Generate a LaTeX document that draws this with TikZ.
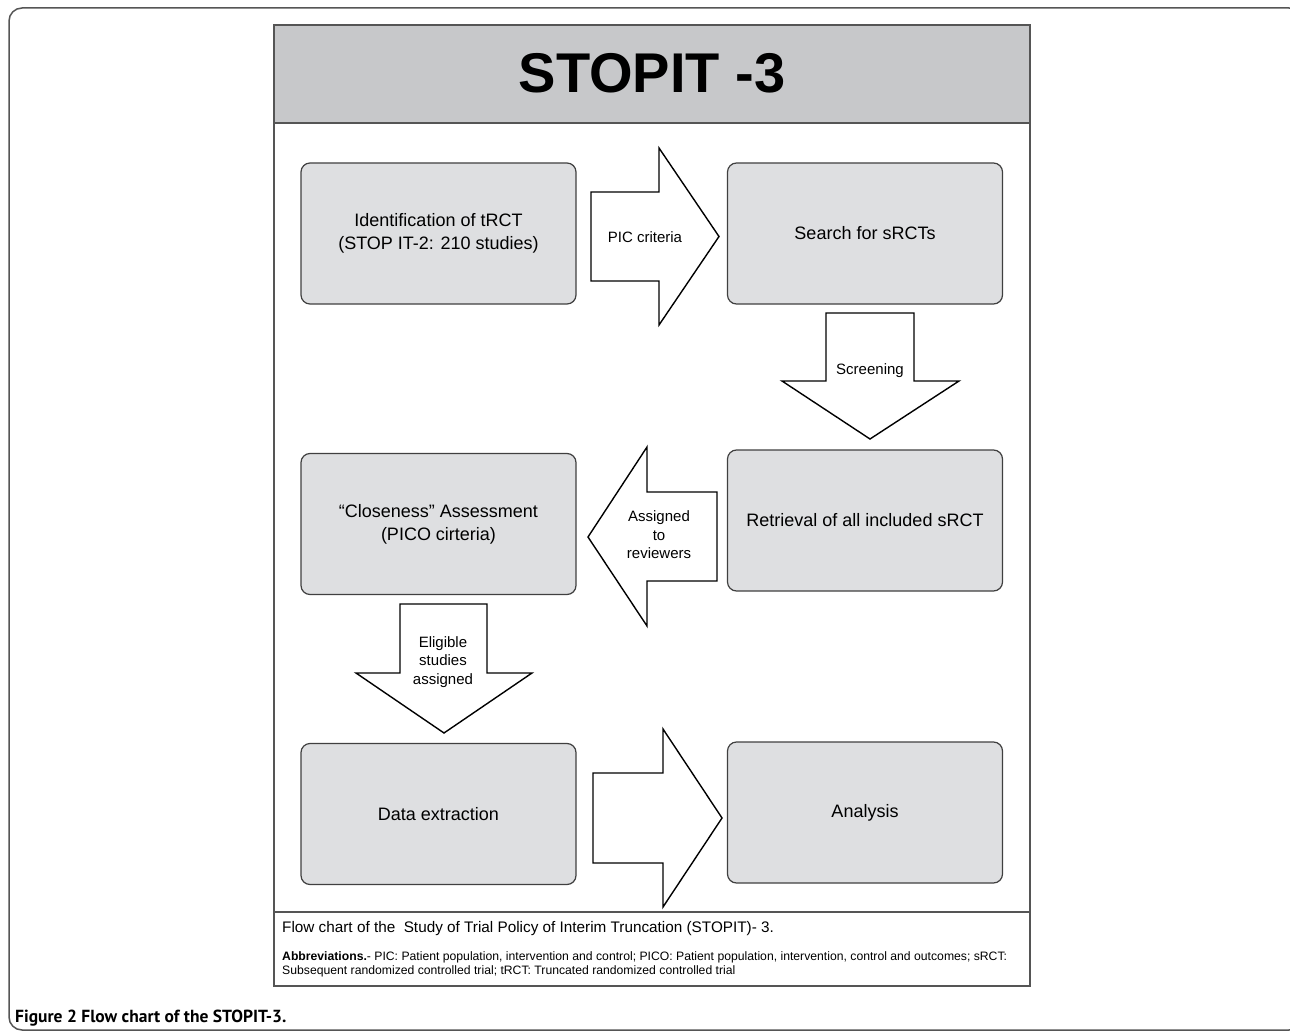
\documentclass[tikz,border=0pt]{standalone}
\usepackage{fontspec}
\setmainfont{Liberation Sans}
\newfontfamily\capfont{PT Sans}
\usepackage{xcolor}
\definecolor{bandgray}{HTML}{C7C8CA}
\definecolor{boxgray}{HTML}{DEDFE1}
\definecolor{framegray}{HTML}{555555}

\begin{document}
\begin{tikzpicture}[x=1pt,y=-1pt,
  stepbox/.style={draw=black!75,fill=boxgray,line width=1.2pt,rounded corners=9pt,
    minimum width=275pt,minimum height=141pt,inner sep=0pt,align=center,
    font=\fontsize{18}{23}\selectfont},
  blockarrow/.style={draw=black,fill=white,line width=1.4pt,line join=miter},
  arrowlabel/.style={align=center,inner sep=0pt,font=\fontsize{15}{18.5}\selectfont}]
\useasboundingbox (0,0) rectangle (1290,1032);
% outer figure frame and chart frame
\draw[framegray,line width=1.5pt,rounded corners=13pt] (9,8) rectangle (1302,1030);
\fill[bandgray] (274,25) rectangle (1030,123);
\draw[framegray,line width=1.2pt] (274,25) rectangle (1030,986);
\draw[framegray,line width=1.2pt] (274,123) -- (1030,123);
\draw[framegray,line width=1.2pt] (274,912) -- (1030,912);
\node (title) at (652,73) {\fontsize{56}{60}\selectfont\bfseries STOPIT -3};
% steps
\node[stepbox] (ident) at (438.5,233.5) {Identification of tRCT\\(STOP IT-2: 210 studies)};
\node[stepbox] (search) at (865,233.5) {Search for sRCTs};
\node[stepbox] (retrieve) at (865,520.5) {Retrieval of all included sRCT};
\node[stepbox] (close) at (438.5,524) {“Closeness” Assessment\\(PICO cirteria)};
\node[stepbox] (extract) at (438.5,814) {Data extraction};
\node[stepbox] (analysis) at (865,812.5) {Analysis};
% block arrows
\draw[blockarrow] (591,192) -- (659,192) -- (659,148) -- (719,236.5) -- (659,325) -- (659,281) -- (591,281) -- cycle;
\node[arrowlabel] (pic) at (645,237) {PIC criteria};
\draw[blockarrow] (826,313) -- (914,313) -- (914,381) -- (959,381) -- (870,439) -- (782,381) -- (826,381) -- cycle;
\node[arrowlabel] (screen) at (870,371) {Screening};
\draw[blockarrow] (588,537) -- (647,447) -- (647,492) -- (717,492) -- (717,581) -- (647,581) -- (647,626) -- cycle;
\node[arrowlabel] (assign) at (659,535) {Assigned\\to\\reviewers};
\draw[blockarrow] (400,604) -- (487,604) -- (487,673) -- (532,673) -- (444,733) -- (356,673) -- (400,673) -- cycle;
\node[arrowlabel] (elig) at (443,662) {Eligible\\studies\\assigned};
\draw[blockarrow] (593,773) -- (663,773) -- (663,729) -- (722,818) -- (663,907) -- (663,863) -- (593,863) -- cycle;
% notes
\node[anchor=west,inner sep=0pt,font=\fontsize{15.3}{18}\selectfont] (note) at (282,929)
  {Flow chart of the \ Study of Trial Policy of Interim Truncation (STOPIT)- 3.};
\node[anchor=north west,inner sep=0pt,align=left,
  font=\fontsize{12.2}{14.5}\selectfont] (abbrev) at (282,951)
  {\textbf{Abbreviations.}- PIC: Patient population, intervention and control; PICO: Patient population, intervention, control and outcomes; sRCT:\\Subsequent randomized controlled trial; tRCT: Truncated randomized controlled trial};
\node[anchor=west,inner sep=0pt,font=\capfont\fontsize{17.5}{21}\selectfont\bfseries] (caption) at (15,1018)
  {Figure 2 Flow chart of the STOPIT-3.};
\end{tikzpicture}
\end{document}
